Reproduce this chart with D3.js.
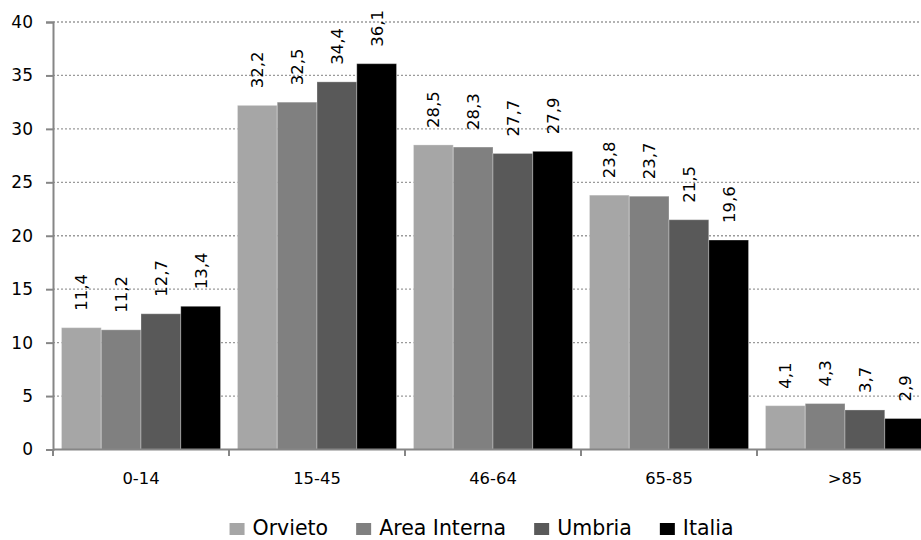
<!DOCTYPE html>
<html>
<head>
<meta charset="utf-8">
<script src="https://cdn.jsdelivr.net/npm/d3@7"></script>
<style>
  html, body { margin: 0; padding: 0; background: #fff; }
  svg { display: block; font-family: "DejaVu Sans", sans-serif; }
</style>
</head>
<body>
<svg id="chart" width="921" height="540"></svg>
<script>
// Age groups and population share (%) per area
const categories = ["0-14", "15-45", "46-64", "65-85", ">85"];
const seriesNames = ["Orvieto", "Area Interna", "Umbria", "Italia"];
const orvieto     = [11.4, 32.2, 28.5, 23.8, 4.1];
const areaInterna = [11.2, 32.5, 28.3, 23.7, 4.3];
const umbria      = [12.7, 34.4, 27.7, 21.5, 3.7];
const italia      = [13.4, 36.1, 27.9, 19.6, 2.9];
const yTicks = [0, 5, 10, 15, 20, 25, 30, 35, 40];
const colors = ["#a6a6a6", "#808080", "#595959", "#000000"];

const seriesValues = [orvieto, areaInterna, umbria, italia];
const rows = categories.map((c, i) => ({
  cat: c,
  values: seriesNames.map((s, j) => ({ series: s, idx: j, value: seriesValues[j][i] }))
}));

const svg = d3.select("#chart");
const plot = { left: 53, right: 933, top: 22, bottom: 449.5 };

const x = d3.scaleBand().domain(categories).range([plot.left, plot.right]).padding(0);
const x1 = d3.scaleBand().domain(seriesNames).range([0, x.bandwidth()])
  .paddingInner(0).paddingOuter(0.213);
const y = d3.scaleLinear().domain([0, 40]).range([plot.bottom, plot.top]);

const axisColor = "#868686";
const fmt = v => d3.format(".1f")(v).replace(".", ",");

// dotted horizontal gridlines
svg.append("g").selectAll("line")
  .data(yTicks.filter(t => t > 0))
  .join("line")
  .attr("x1", plot.left).attr("x2", plot.right)
  .attr("y1", d => y(d)).attr("y2", d => y(d))
  .attr("stroke", "#9a9a9a").attr("stroke-width", 1.3)
  .attr("stroke-dasharray", "2,2");

// bars
const groups = svg.append("g").selectAll("g")
  .data(rows).join("g")
  .attr("transform", d => `translate(${x(d.cat)},0)`);

groups.selectAll("rect")
  .data(d => d.values).join("rect")
  .attr("x", d => x1(d.series))
  .attr("width", x1.bandwidth())
  .attr("y", d => y(d.value))
  .attr("height", d => y(0) - y(d.value))
  .attr("fill", d => colors[d.idx])
  .attr("stroke", "rgba(255,255,255,0.3)")
  .attr("stroke-width", 1);

// rotated value labels above bars
groups.selectAll("text")
  .data(d => d.values).join("text")
  .attr("transform", d => `translate(${x1(d.series) + x1.bandwidth() / 2},${y(d.value) - 17}) rotate(-90)`)
  .attr("dy", "0.36em")
  .attr("text-anchor", "start")
  .attr("font-size", 16.5)
  .attr("fill", "#000")
  .text(d => fmt(d.value));

// y axis
const yAxis = svg.append("g")
  .attr("transform", `translate(${plot.left},0)`)
  .call(d3.axisLeft(y).tickValues(yTicks).tickSize(7).tickPadding(13).tickFormat(d3.format("d")));
yAxis.select(".domain").attr("stroke", axisColor).attr("stroke-width", 2);
yAxis.selectAll(".tick line").attr("stroke", axisColor).attr("stroke-width", 2);
yAxis.selectAll(".tick text").attr("font-size", 17).attr("fill", "#000")
  .attr("font-family", "DejaVu Sans, sans-serif");

// x axis: labels centered, ticks at category boundaries
const xAxis = svg.append("g")
  .attr("transform", `translate(0,${plot.bottom})`)
  .call(d3.axisBottom(x).tickSize(0).tickPadding(22));
xAxis.select(".domain").attr("stroke", axisColor).attr("stroke-width", 2)
  .attr("d", `M${plot.left},0H${plot.right}`);
xAxis.selectAll(".tick text").attr("font-size", 16.4).attr("fill", "#000")
  .attr("font-family", "DejaVu Sans, sans-serif").attr("dy", "0")
  .attr("y", 34.5);
xAxis.append("g").selectAll("line")
  .data(categories.map(c => x(c)).concat([x(categories[categories.length - 1]) + x.step()]))
  .join("line")
  .attr("x1", d => d).attr("x2", d => d)
  .attr("y1", 0).attr("y2", 6.5)
  .attr("stroke", axisColor).attr("stroke-width", 2);

// legend
const legend = svg.append("g");
const items = legend.selectAll("g").data(seriesNames).join("g");
items.append("rect")
  .attr("width", 15).attr("height", 12)
  .attr("y", 523)
  .attr("fill", (d, i) => colors[i]);
items.append("text")
  .attr("x", 23).attr("y", 535)
  .attr("font-size", 20.5).attr("fill", "#000")
  .text(d => d);
const widths = [];
items.each(function () { widths.push(23 + d3.select(this).select("text").node().getComputedTextLength()); });
const gap = 28;
const total = d3.sum(widths) + gap * (widths.length - 1);
let cx = 481.5 - total / 2;
items.attr("transform", (d, i) => {
  const t = `translate(${cx},0)`;
  cx += widths[i] + gap;
  return t;
});
</script>
</body>
</html>
